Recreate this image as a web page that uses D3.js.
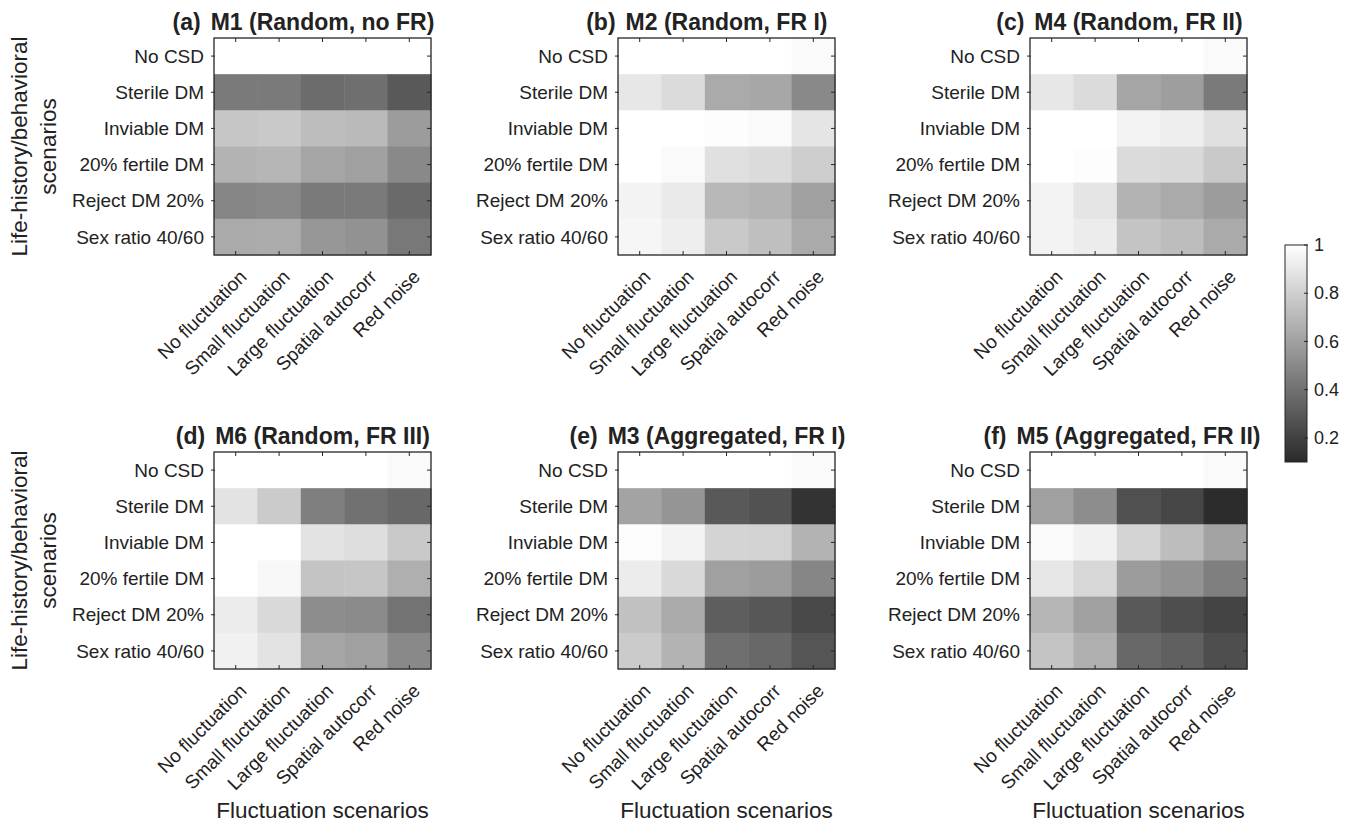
<!DOCTYPE html>
<html>
<head>
<meta charset="utf-8">
<script src="https://cdn.jsdelivr.net/npm/d3@7/dist/d3.min.js"></script>
<style>
  html, body { margin: 0; padding: 0; background: #fff; }
  svg text { font-family: "Liberation Sans", Arial, Helvetica, sans-serif; fill: #222; }
</style>
</head>
<body>
<svg id="chart" width="1352" height="823"></svg>
<script>
// Row and column categories shared by all six heatmaps
const rows = ["No CSD", "Sterile DM", "Inviable DM", "20% fertile DM", "Reject DM 20%", "Sex ratio 40/60"];
const cols = ["No fluctuation", "Small fluctuation", "Large fluctuation", "Spatial autocorr", "Red noise"];

const tags = ["(a)", "(b)", "(c)", "(d)", "(e)", "(f)"];
const titles = ["M1 (Random, no FR)", "M2 (Random, FR I)", "M4 (Random, FR II)",
                "M6 (Random, FR III)", "M3 (Aggregated, FR I)", "M5 (Aggregated, FR II)"];

// Cell values, one row per life-history scenario, one column per fluctuation scenario
const m1 = [
  [1.00, 1.00, 1.00, 1.00, 1.00],
  [0.44, 0.44, 0.38, 0.39, 0.30],
  [0.76, 0.77, 0.72, 0.71, 0.58],
  [0.68, 0.69, 0.62, 0.60, 0.50],
  [0.49, 0.50, 0.44, 0.44, 0.37],
  [0.64, 0.65, 0.56, 0.54, 0.43]
];
const m2 = [
  [1.00, 1.00, 1.00, 1.00, 0.98],
  [0.90, 0.85, 0.64, 0.63, 0.50],
  [1.00, 1.00, 0.99, 0.98, 0.89],
  [1.00, 0.98, 0.87, 0.85, 0.79],
  [0.95, 0.91, 0.70, 0.68, 0.60],
  [0.96, 0.93, 0.77, 0.73, 0.64]
];
const m4 = [
  [1.00, 1.00, 1.00, 1.00, 0.98],
  [0.90, 0.85, 0.62, 0.59, 0.44],
  [1.00, 1.00, 0.95, 0.93, 0.87],
  [1.00, 0.99, 0.85, 0.84, 0.77],
  [0.95, 0.89, 0.68, 0.64, 0.58],
  [0.95, 0.92, 0.75, 0.72, 0.64]
];
const m6 = [
  [1.00, 1.00, 1.00, 1.00, 0.98],
  [0.88, 0.78, 0.46, 0.40, 0.36],
  [1.00, 1.00, 0.88, 0.86, 0.77],
  [1.00, 0.97, 0.75, 0.76, 0.66],
  [0.92, 0.84, 0.52, 0.51, 0.41],
  [0.94, 0.88, 0.62, 0.60, 0.50]
];
const m3 = [
  [1.00, 1.00, 1.00, 1.00, 0.98],
  [0.61, 0.55, 0.30, 0.27, 0.14],
  [0.99, 0.95, 0.82, 0.81, 0.68],
  [0.92, 0.84, 0.60, 0.58, 0.49],
  [0.74, 0.64, 0.32, 0.29, 0.23],
  [0.78, 0.68, 0.39, 0.36, 0.28]
];
const m5 = [
  [1.00, 1.00, 1.00, 1.00, 0.98],
  [0.60, 0.52, 0.26, 0.22, 0.11],
  [0.98, 0.94, 0.82, 0.72, 0.61],
  [0.90, 0.83, 0.58, 0.54, 0.46],
  [0.69, 0.60, 0.30, 0.25, 0.21],
  [0.75, 0.66, 0.36, 0.33, 0.25]
];
const matrices = [m1, m2, m4, m6, m3, m5];

const colorDomain = [0.1, 1];
const colorTicks = [0.2, 0.4, 0.6, 0.8, 1];

const xAxisTitle = "Fluctuation scenarios";
const yAxisTitle = ["Life-history/behavioral", "scenarios"];

// ---- layout ----
const svg = d3.select("#chart");
const size = 217;
const lefts = [214, 618, 1030];
const tops = [38, 452];
const ink = "#262626";
const tickFont = 19;
const titleFont = 23;

const color = d3.scaleLinear().domain(colorDomain).range(["#2b2a2b", "#ffffff"]).clamp(true);

matrices.forEach((mat, i) => {
  const col = i % 3, row = Math.floor(i / 3);
  const x0 = lefts[col], y0 = tops[row];
  const g = svg.append("g").attr("transform", `translate(${x0},${y0})`);

  const x = d3.scaleBand().domain(cols).range([0, size]);
  const y = d3.scaleBand().domain(rows).range([0, size]);

  const cells = [];
  mat.forEach((r, ri) => r.forEach((v, ci) => cells.push({ r: rows[ri], c: cols[ci], v })));

  g.selectAll("rect.cell").data(cells).enter().append("rect")
    .attr("class", "cell")
    .attr("x", d => x(d.c)).attr("y", d => y(d.r))
    .attr("width", x.bandwidth() + 0.5).attr("height", y.bandwidth() + 0.5)
    .attr("fill", d => color(d.v));

  // box
  g.append("rect").attr("x", 0).attr("y", 0).attr("width", size).attr("height", size)
    .attr("fill", "none").attr("stroke", ink).attr("stroke-width", 1.3);

  const xc = c => x(c) + x.bandwidth() / 2;
  const yc = r => y(r) + y.bandwidth() / 2;

  // ticks: top / bottom / right inward, left outward
  cols.forEach(c => {
    g.append("line").attr("x1", xc(c)).attr("x2", xc(c)).attr("y1", 0).attr("y2", 4)
      .attr("stroke", ink).attr("stroke-width", 1);
    g.append("line").attr("x1", xc(c)).attr("x2", xc(c)).attr("y1", size).attr("y2", size - 4)
      .attr("stroke", ink).attr("stroke-width", 1);
  });
  rows.forEach(r => {
    g.append("line").attr("x1", size).attr("x2", size - 4).attr("y1", yc(r)).attr("y2", yc(r))
      .attr("stroke", ink).attr("stroke-width", 1);
    g.append("line").attr("x1", -3).attr("x2", 1).attr("y1", yc(r)).attr("y2", yc(r))
      .attr("stroke", ink).attr("stroke-width", 1);
  });

  // row labels
  g.selectAll("text.ylab").data(rows).enter().append("text")
    .attr("class", "ylab")
    .attr("x", -10).attr("y", d => yc(d)).attr("dy", "0.35em")
    .attr("text-anchor", "end").style("font-size", tickFont + "px")
    .text(d => d);

  // column labels, rotated
  g.selectAll("text.xlab").data(cols).enter().append("text")
    .attr("class", "xlab")
    .attr("text-anchor", "end").style("font-size", tickFont + "px")
    .attr("transform", d => `translate(${xc(d) + 12},${size + 23}) rotate(-45)`)
    .text(d => d);

  // title, centred on the axes, with panel tag to its left
  const t = g.append("text").attr("x", size / 2).attr("y", -8)
    .attr("text-anchor", "middle").style("font-size", titleFont + "px").style("font-weight", "bold")
    .text(titles[i]);
  const tw = t.node().getComputedTextLength();
  g.append("text").attr("x", size / 2 - tw / 2 - 10).attr("y", -8)
    .attr("text-anchor", "end").style("font-size", titleFont + "px").style("font-weight", "bold")
    .text(tags[i]);

  if (row === 1) {
    g.append("text").attr("x", size / 2).attr("y", 818 - y0)
      .attr("text-anchor", "middle").style("font-size", "22.5px")
      .text(xAxisTitle);
  }
  if (col === 0) {
    const cy = size / 2;
    yAxisTitle.forEach((line, li) => {
      g.append("text")
        .attr("transform", `translate(${27 + li * 29 - x0},${cy}) rotate(-90)`)
        .attr("text-anchor", "middle").style("font-size", "22.5px")
        .text(line);
    });
  }
});

// ---- colorbar ----
const cbX = 1285, cbY = 245, cbW = 22, cbH = 217;
const cbScale = d3.scaleLinear().domain(colorDomain).range([cbY + cbH, cbY]);
const defs = svg.append("defs");
const grad = defs.append("linearGradient").attr("id", "cbgrad")
  .attr("x1", 0).attr("y1", 1).attr("x2", 0).attr("y2", 0);
d3.range(0, 1.0001, 0.1).forEach(p => {
  const v = colorDomain[0] + p * (colorDomain[1] - colorDomain[0]);
  grad.append("stop").attr("offset", p).attr("stop-color", color(v));
});
svg.append("rect").attr("x", cbX).attr("y", cbY).attr("width", cbW).attr("height", cbH)
  .attr("fill", "url(#cbgrad)").attr("stroke", ink).attr("stroke-width", 1);

const cbAxis = d3.axisRight(cbScale).tickValues(colorTicks)
  .tickFormat(d3.format("~g")).tickSize(0).tickPadding(7);
const cbg = svg.append("g").attr("transform", `translate(${cbX + cbW},0)`).call(cbAxis);
cbg.select(".domain").remove();
cbg.selectAll("text").style("font-size", "18px").attr("fill", "#222")
  .style("font-family", '"Liberation Sans", Arial, sans-serif');
colorTicks.forEach(v => {
  svg.append("line").attr("x1", cbX + cbW - 3).attr("x2", cbX + cbW + 1)
    .attr("y1", cbScale(v)).attr("y2", cbScale(v)).attr("stroke", ink).attr("stroke-width", 1);
});
</script>
</body>
</html>
